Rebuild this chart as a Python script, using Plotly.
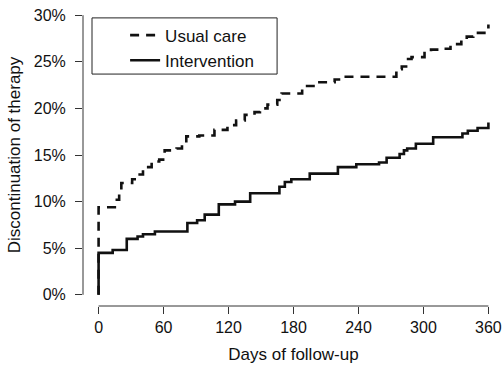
import plotly.graph_objects as go

# Cumulative discontinuation (%), step functions
usual_days = [0, 0, 15, 19, 21, 31, 35, 41, 43, 49, 56, 61, 72, 77, 81, 93, 107, 119, 127, 135,
              144, 149, 156, 165, 169, 188, 201, 218, 222, 275, 280, 284, 289, 301, 307, 316,
              325, 335, 340, 346, 358, 360]
usual_pct = [0, 9.4, 10.2, 10.9, 12.0, 12.4, 12.9, 13.4, 13.7, 14.3, 14.5, 15.5, 15.7, 16.1, 17.0,
             17.1, 17.7, 18.2, 18.7, 19.3, 19.6, 20.0, 20.4, 20.9, 21.6, 22.4, 22.8, 23.1, 23.4,
             24.2, 24.5, 25.3, 25.5, 26.1, 26.3, 26.4, 26.9, 27.3, 27.7, 28.1, 28.7, 29.0]

interv_days = [0, 0, 13, 26, 36, 41, 52, 82, 91, 98, 111, 126, 140, 167, 172, 178, 195, 221, 238,
               259, 266, 278, 282, 285, 293, 309, 336, 341, 350, 360]
interv_pct = [0, 4.5, 4.8, 6.0, 6.25, 6.5, 6.8, 7.7, 8.0, 8.6, 9.7, 10.0, 10.9, 11.6, 12.1, 12.4,
              13.0, 13.7, 14.0, 14.2, 14.7, 15.1, 15.5, 15.7, 16.2, 16.9, 17.3, 17.6, 17.9, 18.5]

x_ticks = [0, 60, 120, 180, 240, 300, 360]
y_ticks = [0, 5, 10, 15, 20, 25, 30]
y_ticktext = ["0%", "5%", "10%", "15%", "20%", "25%", "30%"]

FONT = "Liberation Sans, Arial, sans-serif"
AX = "#333333"
FS = 17
TFS = 16

fig = go.Figure()
fig.add_trace(go.Scatter(x=usual_days, y=usual_pct, mode="lines", name="Usual care",
                         line=dict(color="#111111", width=2.6, dash="9px,7px", shape="hv")))
fig.add_trace(go.Scatter(x=interv_days, y=interv_pct, mode="lines", name="Intervention",
                         line=dict(color="#111111", width=2.6, shape="hv")))

fig.update_layout(
    width=504, height=370,
    margin=dict(l=83, r=0, t=4, b=64, autoexpand=False),
    paper_bgcolor="white", plot_bgcolor="white",
    font=dict(family=FONT, size=FS, color="#111111"),
    showlegend=True,
    legend=dict(x=0.1, y=0.955, xanchor="left", yanchor="top",
                bgcolor="rgba(0,0,0,0)", borderwidth=0,
                font=dict(size=FS), itemwidth=30, tracegroupgap=0),
    xaxis=dict(range=[-14.4, 374.4], tickvals=x_ticks, ticks="outside", ticklen=7,
               tickcolor=AX, tickwidth=1, showline=False, showgrid=False, zeroline=False,
               tickfont=dict(size=TFS), automargin=False,
               title=dict(text="Days of follow-up", standoff=12, font=dict(size=FS))),
    yaxis=dict(range=[-1.2, 31.2], tickvals=y_ticks, ticktext=y_ticktext, ticks="outside",
               ticklen=7, tickcolor=AX, tickwidth=1, showline=False, showgrid=False,
               zeroline=False, tickfont=dict(size=TFS), ticklabelstandoff=6, automargin=False,
               title=dict(text="Discontinuation of therapy", standoff=8, font=dict(size=FS))),
    shapes=[
        dict(type="line", xref="x", yref="paper", x0=0, x1=360, y0=0, y1=0,
             line=dict(color=AX, width=1)),
        dict(type="line", xref="paper", yref="y", x0=0, x1=0, y0=0, y1=30,
             line=dict(color=AX, width=1)),
        dict(type="rect", xref="paper", yref="paper", x0=0.0214, x1=0.461, y0=0.768, y1=0.954,
             line=dict(color="#222222", width=1), fillcolor="rgba(0,0,0,0)"),
    ],
)

fig.write_html("out.html", config={"displayModeBar": False},
               post_script="document.body.style.margin='0';document.body.style.overflow='hidden';")
